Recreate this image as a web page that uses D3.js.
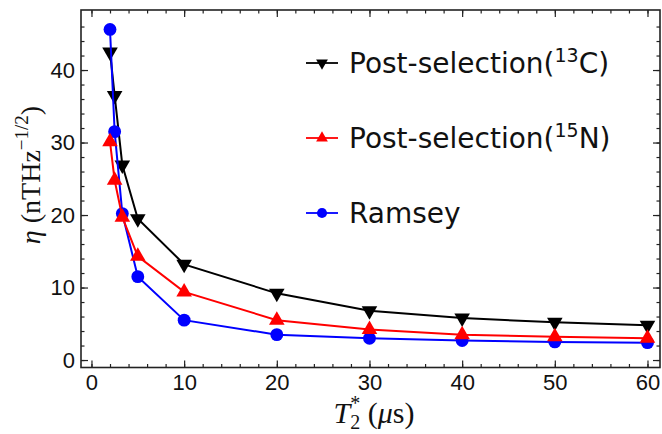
<!DOCTYPE html>
<html>
<head>
<meta charset="utf-8">
<script src="https://cdn.jsdelivr.net/npm/d3@7"></script>
<style>
  body { margin: 0; background: #fff; }
  svg { display: block; }
</style>
</head>
<body>
<div id="chart"></div>
<script>
// T2* values (microseconds)
var t2 = [2, 2.5, 3.33, 5, 10, 20, 30, 40, 50, 60];
// sensitivity eta, nT Hz^-1/2
var post13C = [42.5, 36.5, 26.9, 19.5, 13.2, 9.2, 6.8, 5.8, 5.2, 4.8];
var post15N = [30.1, 24.8, 19.7, 14.3, 9.4, 5.5, 4.2, 3.5, 3.2, 3.0];
var ramsey = [45.6, 31.5, 20.2, 11.5, 5.5, 3.5, 3.0, 2.7, 2.5, 2.4];
var xTicks = [0, 10, 20, 30, 40, 50, 60];
var yTicks = [0, 10, 20, 30, 40];

(function() {
  var w = 662, h = 434;
  var plotL = 81, plotR = 660, plotT = 10, plotB = 367.5;

  var svg = d3.select("#chart").append("svg")
    .attr("width", w)
    .attr("height", h);

  var x = d3.scaleLinear().domain([-1.13, 61.35]).range([plotL, plotR]);
  var y = d3.scaleLinear().domain([-1.03, 48.28]).range([plotB, plotT]);

  // minor ticks every 2 units
  var xMinor = d3.range(0, 62, 2);
  var yMinor = d3.range(0, 48, 2);

  function tickAxis(axisFn, scale, ticks, size, fmt, pad) {
    return axisFn(scale).tickValues(ticks).tickSizeInner(size).tickSizeOuter(0)
      .tickPadding(pad || 3).tickFormat(fmt);
  }

  var frame = svg.append("g").attr("class", "frame");

  // bottom
  frame.append("g").attr("transform", "translate(0," + plotB + ")")
    .call(tickAxis(d3.axisBottom, x, xMinor, -3.5, ""));
  frame.append("g").attr("transform", "translate(0," + plotB + ")")
    .call(tickAxis(d3.axisBottom, x, xTicks, -7, d3.format("d"), 7));
  // top
  frame.append("g").attr("transform", "translate(0," + plotT + ")")
    .call(tickAxis(d3.axisTop, x, xMinor, -3.5, ""));
  frame.append("g").attr("transform", "translate(0," + plotT + ")")
    .call(tickAxis(d3.axisTop, x, xTicks, -7, ""));
  // left
  frame.append("g").attr("transform", "translate(" + plotL + ",0)")
    .call(tickAxis(d3.axisLeft, y, yMinor, -3.5, ""));
  frame.append("g").attr("transform", "translate(" + plotL + ",0)")
    .call(tickAxis(d3.axisLeft, y, yTicks, -7, d3.format("d"), 6));
  // right
  frame.append("g").attr("transform", "translate(" + plotR + ",0)")
    .call(tickAxis(d3.axisRight, y, yMinor, -3.5, ""));
  frame.append("g").attr("transform", "translate(" + plotR + ",0)")
    .call(tickAxis(d3.axisRight, y, yTicks, -7, ""));

  frame.selectAll(".domain").remove();
  frame.selectAll(".tick line").attr("stroke", "#222").attr("stroke-width", 1.2);
  frame.selectAll(".tick text")
    .attr("fill", "#111")
    .style("font-family", "'Liberation Sans', Arial, sans-serif")
    .style("font-size", "22px");

  svg.append("rect")
    .attr("x", plotL).attr("y", plotT)
    .attr("width", plotR - plotL).attr("height", plotB - plotT)
    .attr("fill", "none").attr("stroke", "#222").attr("stroke-width", 1.6);

  // series
  var series = [
    {name: "13C", values: post13C, color: "#000000", shape: "down"},
    {name: "ramsey", values: ramsey, color: "#0000ff", shape: "circle"},
    {name: "15N", values: post15N, color: "#ff0000", shape: "up"}
  ];

  var line = d3.line()
    .x(function(d) { return x(d[0]); })
    .y(function(d) { return y(d[1]); });

  function markerPath(shape) {
    if (shape === "circle") return d3.symbol().type(d3.symbolCircle).size(130)();
    return d3.symbol().type(d3.symbolTriangle).size(105)();
  }

  series.forEach(function(s) {
    var pts = t2.map(function(t, i) { return [t, s.values[i]]; });
    var g = svg.append("g");
    g.append("path")
      .datum(pts)
      .attr("d", line)
      .attr("fill", "none")
      .attr("stroke", s.color)
      .attr("stroke-width", 2);
    g.selectAll("path.mk")
      .data(pts)
      .enter()
      .append("path")
      .attr("class", "mk")
      .attr("d", markerPath(s.shape))
      .attr("fill", s.color)
      .attr("transform", function(d) {
        var r = s.shape === "down" ? " rotate(180)" : "";
        return "translate(" + x(d[0]) + "," + y(d[1]) + ")" + r;
      });
  });

  // legend
  var legend = [
    {label: "Post-selection(", sup: "13", tail: "C)", color: "#000000", shape: "down"},
    {label: "Post-selection(", sup: "15", tail: "N)", color: "#ff0000", shape: "up"},
    {label: "Ramsey", sup: "", tail: "", color: "#0000ff", shape: "circle"}
  ];
  var legY = [63, 138, 213];

  legend.forEach(function(l, i) {
    var g = svg.append("g").attr("transform", "translate(0," + legY[i] + ")");
    g.append("line")
      .attr("x1", 306).attr("x2", 338)
      .attr("stroke", l.color).attr("stroke-width", 1.8);
    g.append("path")
      .attr("d", l.shape === "circle"
        ? d3.symbol().type(d3.symbolCircle).size(80)()
        : d3.symbol().type(d3.symbolTriangle).size(60)())
      .attr("fill", l.color)
      .attr("transform", "translate(322,0)" + (l.shape === "down" ? " rotate(180)" : ""));
    var t = g.append("text")
      .attr("x", 349).attr("y", 10)
      .attr("fill", "#111")
      .style("font-family", "'DejaVu Sans', Verdana, sans-serif")
      .style("font-size", "28px");
    t.append("tspan").text(l.label);
    if (l.sup) {
      t.append("tspan").attr("dy", -11).style("font-size", "19px").text(l.sup);
      t.append("tspan").attr("dy", 11).text(l.tail);
    }
  });

  // axis titles
  var xt = svg.append("text")
    .attr("x", 374).attr("y", 423)
    .attr("text-anchor", "middle")
    .attr("fill", "#111")
    .style("font-family", "'Liberation Serif', 'Times New Roman', serif")
    .style("font-size", "30px");
  xt.append("tspan").style("font-style", "italic").text("T");
  xt.append("tspan").attr("dy", 6).style("font-size", "20px").text("2");
  xt.append("tspan").attr("dx", -10).attr("dy", -19).style("font-size", "20px").text("*");
  xt.append("tspan").attr("dy", 13).text(" (");
  xt.append("tspan").style("font-style", "italic").text("μ");
  xt.append("tspan").text("s)");

  var yt = svg.append("text")
    .attr("transform", "translate(40,175) rotate(-90)")
    .attr("text-anchor", "middle")
    .attr("fill", "#111")
    .style("font-family", "'Liberation Serif', 'Times New Roman', serif")
    .style("font-size", "28px");
  yt.append("tspan").style("font-style", "italic").text("η");
  yt.append("tspan").text(" (nTHz");
  yt.append("tspan").attr("dy", -12).style("font-size", "19px").text("−1/2");
  yt.append("tspan").attr("dy", 12).text(")");
})();
</script>
</body>
</html>
